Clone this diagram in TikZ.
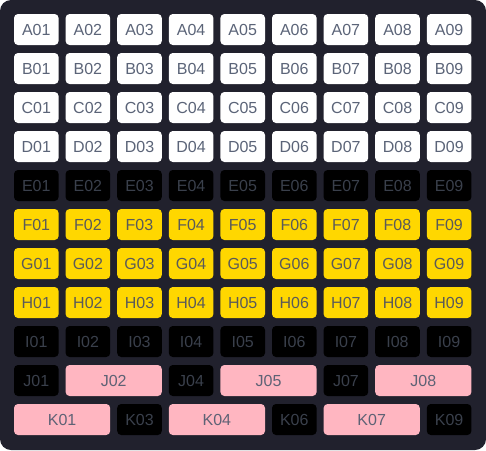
\documentclass[tikz,border=0pt]{standalone}
\usepackage{fontspec}
\setmainfont{Liberation Sans}
\definecolor{bgc}{HTML}{21212D}
\definecolor{wtxt}{HTML}{5B6478}
\definecolor{btxt}{HTML}{3A404C}
\definecolor{ytxt}{HTML}{5A5A5A}
\definecolor{ycell}{HTML}{FFD700}
\definecolor{pcell}{HTML}{FFB6C1}
\definecolor{ptxt}{HTML}{5E6275}
\newcommand{\cw}{44.6}
\newcommand{\ch}{31}
\begin{document}
\begin{tikzpicture}[x=1pt,y=-1pt,
  cellbase/.style={rounded corners=4pt, inner sep=0pt, font=\fontsize{16}{16}\selectfont, minimum height=\ch pt},
  wcell/.style={cellbase, fill=white, text=wtxt},
  kcell/.style={cellbase, fill=black, text=btxt},
  ycellst/.style={cellbase, fill=ycell, text=ytxt},
  pcellst/.style={cellbase, fill=pcell, text=ptxt}]
\fill[bgc, rounded corners=11pt] (0,0) rectangle (486,450);
\useasboundingbox (0,0) rectangle (486,450);
% rows A-I
\foreach \r/\st [count=\ri from 0] in {A/wcell,B/wcell,C/wcell,D/wcell,E/kcell,F/ycellst,G/ycellst,H/ycellst,I/kcell}{
  \foreach \c in {1,...,9}{
    \node[\st, minimum width=\cw pt] (\r\c) at ({14+\cw/2+(\c-1)*51.6},{14+\ch/2+\ri*39}) {\r0\c};
  }
}
% row J
\node[kcell, minimum width=\cw pt] (J1) at ({14+\cw/2+0*51.6},{14+\ch/2+9*39}) {J01};
\node[pcellst, minimum width=96.2pt] (J2) at ({14+96.2/2+1*51.6},{14+\ch/2+9*39}) {J02};
\node[kcell, minimum width=\cw pt] (J4) at ({14+\cw/2+3*51.6},{14+\ch/2+9*39}) {J04};
\node[pcellst, minimum width=96.2pt] (J5) at ({14+96.2/2+4*51.6},{14+\ch/2+9*39}) {J05};
\node[kcell, minimum width=\cw pt] (J7) at ({14+\cw/2+6*51.6},{14+\ch/2+9*39}) {J07};
\node[pcellst, minimum width=96.2pt] (J8) at ({14+96.2/2+7*51.6},{14+\ch/2+9*39}) {J08};
% row K
\node[pcellst, minimum width=96.2pt] (K1) at ({14+96.2/2+0*51.6},{14+\ch/2+10*39}) {K01};
\node[kcell, minimum width=\cw pt] (K3) at ({14+\cw/2+2*51.6},{14+\ch/2+10*39}) {K03};
\node[pcellst, minimum width=96.2pt] (K4) at ({14+96.2/2+3*51.6},{14+\ch/2+10*39}) {K04};
\node[kcell, minimum width=\cw pt] (K6) at ({14+\cw/2+5*51.6},{14+\ch/2+10*39}) {K06};
\node[pcellst, minimum width=96.2pt] (K7) at ({14+96.2/2+6*51.6},{14+\ch/2+10*39}) {K07};
\node[kcell, minimum width=\cw pt] (K9) at ({14+\cw/2+8*51.6},{14+\ch/2+10*39}) {K09};
\end{tikzpicture}
\end{document}
